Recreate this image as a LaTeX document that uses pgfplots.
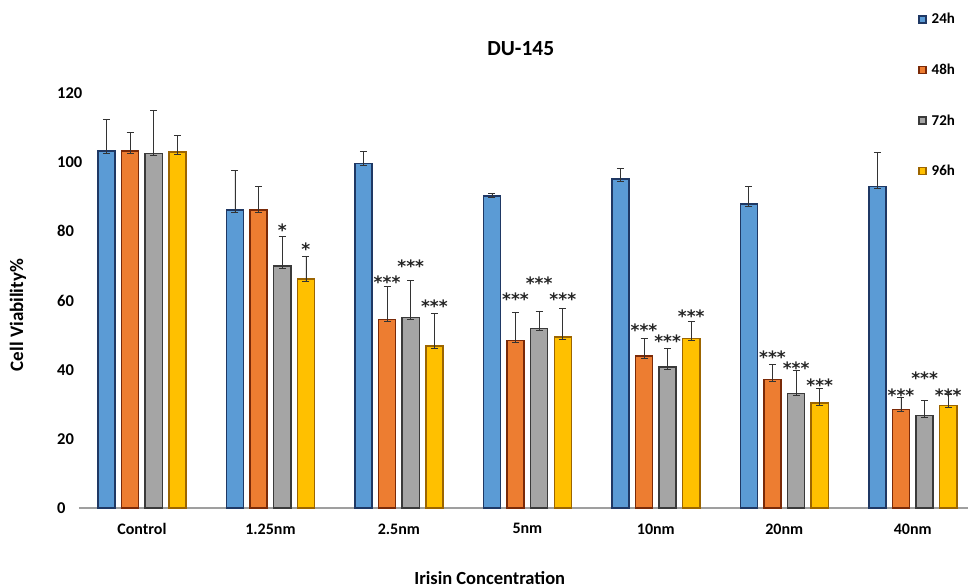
\documentclass[border=0pt]{standalone}
\usepackage{fontspec}
\setmainfont{Carlito}
\newfontfamily\starfont{DejaVu Sans}
\usepackage{pgfplots}
\pgfplotsset{compat=1.18}
\definecolor{cblue}{HTML}{5B9BD5}
\definecolor{dblue}{HTML}{1F3864}
\definecolor{corange}{HTML}{ED7D31}
\definecolor{dorange}{HTML}{7A2A08}
\definecolor{cgray}{HTML}{A5A5A5}
\definecolor{dgray}{HTML}{3A3A3A}
\definecolor{cyellow}{HTML}{FFC000}
\definecolor{dyellow}{HTML}{9C6500}
\begin{document}
\begin{tikzpicture}[x=1pt,y=1pt]
\useasboundingbox (0,0) rectangle (970,588);
\begin{axis}[
  ybar,
  at={(79pt,80pt)}, anchor=south west,
  scale only axis, width=889pt, height=415pt,
  xmin=-0.49, xmax=6.43, ymin=0, ymax=120,
  clip=false,
  axis x line=bottom, axis y line=left,
  axis line style={-},
  x axis line style={-, draw=gray!75, line width=1.3pt},
  y axis line style={draw=none},
  major tick length=0pt,
  xtick={0,...,6},
  xticklabels={Control,1.25nm,2.5nm,5nm,10nm,20nm,40nm},
  ytick={0,20,...,120},
  /pgf/number format/assume math mode=true,
  xticklabel style={font=\bfseries\fontsize{16}{18}\selectfont, yshift=-12pt},
  yticklabel style={font=\bfseries\fontsize{16.5}{18}\selectfont, anchor=west, xshift=-22pt, inner sep=0pt},
  title={DU-145},
  title style={at={(axis description cs:0.497,1.092)}, anchor=center, font=\bfseries\fontsize{21.5}{23}\selectfont},
  xlabel={Irisin Concentration},
  xlabel style={at={(axis description cs:0.462,-0.169)}, anchor=center, font=\bfseries\fontsize{18.5}{20}\selectfont},
  ylabel={Cell Viability\%},
  ylabel style={at={(axis description cs:-0.0686,0.465)}, anchor=center, font=\bfseries\fontsize{19}{21}\selectfont},
  legend style={at={(axis description cs:0.944,1.197)}, anchor=north west, draw=none, fill=none,
    font=\bfseries\fontsize{15}{17}\selectfont, row sep=34.5pt, inner sep=0pt,
    nodes={inner xsep=5pt}},
  legend cell align=left,
  legend image code/.code={\draw[#1, line width=1.3pt] (1pt,-3.5pt) rectangle (8pt,3.5pt);},
  error bars/y dir=both,
  error bars/y explicit,
  error bars/error bar style={black!80, line width=0.7pt},
  error bars/error mark=-,
  error bars/error mark options={black!80, line width=0.7pt, mark size=3.5pt, rotate=90},
]
\addplot[bar width=0.133, bar shift=-0.276, fill=cblue, draw=dblue, line width=1.5pt]
  coordinates {(0,103.2) += (0,9.2) -= (0,0.6) (1,86.1) += (0,11.6) -= (0,0.6) (2,99.6) += (0,3.6) -= (0,0.6)
               (3,90.2) += (0,0.8) -= (0,0.4) (4,95.1) += (0,3.1) -= (0,0.6) (5,87.9) += (0,5.0) -= (0,0.6)
               (6,92.9) += (0,9.9) -= (0,0.6)};
\addlegendentry{24h}
\addplot[bar width=0.133, bar shift=-0.092, fill=corange, draw=dorange, line width=1.5pt]
  coordinates {(0,103.2) += (0,5.4) -= (0,0.6) (1,86.1) += (0,6.8) -= (0,0.6) (2,54.5) += (0,9.5) -= (0,0.6)
               (3,48.4) += (0,8.2) -= (0,0.6) (4,43.9) += (0,5.1) -= (0,0.6) (5,37.2) += (0,4.3) -= (0,0.6)
               (6,28.5) += (0,3.4) -= (0,0.6)};
\addlegendentry{48h}
\addplot[bar width=0.133, bar shift=0.092, fill=cgray, draw=dgray, line width=1.5pt]
  coordinates {(0,102.5) += (0,12.5) -= (0,0.6) (1,70.0) += (0,8.6) -= (0,0.6) (2,55.1) += (0,10.6) -= (0,0.6)
               (3,51.9) += (0,5.1) -= (0,0.6) (4,40.8) += (0,5.4) -= (0,0.6) (5,33.1) += (0,6.8) -= (0,0.6)
               (6,26.7) += (0,4.5) -= (0,0.6)};
\addlegendentry{72h}
\addplot[bar width=0.133, bar shift=0.276, fill=cyellow, draw=dyellow, line width=1.5pt]
  coordinates {(0,102.9) += (0,4.9) -= (0,0.6) (1,66.2) += (0,6.7) -= (0,0.6) (2,46.9) += (0,9.4) -= (0,0.6)
               (3,49.5) += (0,8.2) -= (0,0.6) (4,49.0) += (0,5.1) -= (0,0.6) (5,30.4) += (0,4.2) -= (0,0.6)
               (6,29.6) += (0,3.3) -= (0,0.6)};
\addlegendentry{96h}
\addplot[draw=none, fill=none, bar width=0.01, bar shift=0pt, forget plot,
  nodes near coords, point meta=explicit symbolic,
  nodes near coords style={anchor=center, inner sep=0pt, text=black!85, font=\starfont\bfseries\fontsize{17}{17}\selectfont}]
  coordinates {
  (1.092,80.4) [*] (1.276,74.8) [*]
  (1.908,65.2) [***] (2.092,69.9) [***] (2.276,58.3) [***]
  (2.908,60.4) [***] (3.092,65.1) [***] (3.276,60.4) [***]
  (3.908,51.4) [***] (4.092,48.2) [***] (4.276,55.4) [***]
  (4.908,43.5) [***] (5.092,40.3) [***] (5.276,35.5) [***]
  (5.908,32.6) [***] (6.092,37.4) [***] (6.276,32.6) [***]
  };
\end{axis}
\end{tikzpicture}
\end{document}
